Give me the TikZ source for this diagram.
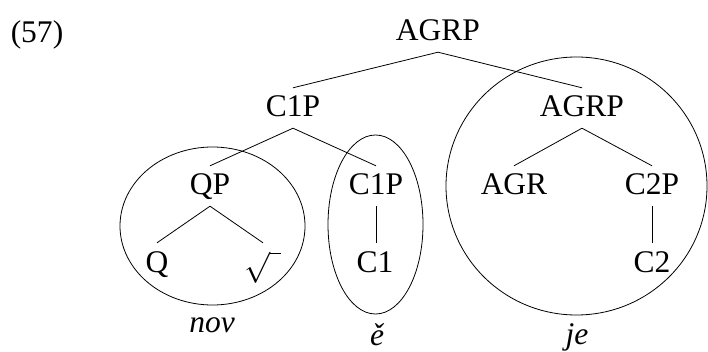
\documentclass[tikz,border=0pt]{standalone}
\usepackage{graphicx}
\usepackage{fontspec}
\setmainfont{Liberation Serif}
\begin{document}
\begin{tikzpicture}[x=1pt,y=-1pt,
  lab/.style={anchor=base,inner xsep=1pt,inner ysep=9pt,text height=20pt,text depth=2pt,font=\fontsize{31.5}{36}\selectfont},
  word/.style={anchor=base,inner sep=0pt,font=\fontsize{31.5}{36}\selectfont\itshape},
  edge/.style={line width=0.8pt},
  ring/.style={line width=0.8pt}]
\useasboundingbox (0,0) rectangle (708,352);
\node[anchor=base,inner sep=0pt,font=\fontsize{31.5}{36}\selectfont] (ex) at (37,43) {(57)};
\node[lab] (agrp) at (438,41) {AGRP};
\node[lab] (c1p) at (293,117) {C1P};
\node[lab] (agrp2) at (582,117) {AGRP};
\node[lab] (qp) at (210,195) {QP};
\node[lab] (c1pb) at (376,195) {C1P};
\node[lab] (agr) at (514,195) {AGR};
\node[lab] (c2p) at (652,195) {C2P};
\node[lab] (q) at (157,272) {Q};
\node[lab] (root) at (263,272) {\raisebox{3pt}[20pt][2pt]{\scalebox{1.25}{$\sqrt{\hphantom{\mathrm{l}}}$}}};
\node[lab] (c1) at (375,272) {C1};
\node[lab] (c2) at (652,272) {C2};
\draw[edge] (agrp.south) -- (c1p.north);
\draw[edge] (agrp.south) -- (agrp2.north);
\draw[edge] (c1p.south) -- (qp.north);
\draw[edge] (c1p.south) -- (c1pb.north);
\draw[edge] (agrp2.south) -- (agr.north);
\draw[edge] (agrp2.south) -- (c2p.north);
\draw[edge] (qp.south) -- (q.north);
\draw[edge] (qp.south) -- (root.north);
\draw[edge] (c1pb.south) -- (c1pb.south |- c1.north);
\draw[edge] (c2p.south) -- (c2.north);
\draw[ring] (212.5,226) ellipse [x radius=92.5, y radius=79];
\draw[ring] (375.5,224.5) ellipse [x radius=47.5, y radius=89.5];
\draw[ring] (576.5,186) ellipse [x radius=130.5, y radius=129];
\node[word] (nov) at (212,332) {nov};
\node[word] (e) at (377,345) {ě};
\node[word] (je) at (577,344) {je};
\end{tikzpicture}
\end{document}
